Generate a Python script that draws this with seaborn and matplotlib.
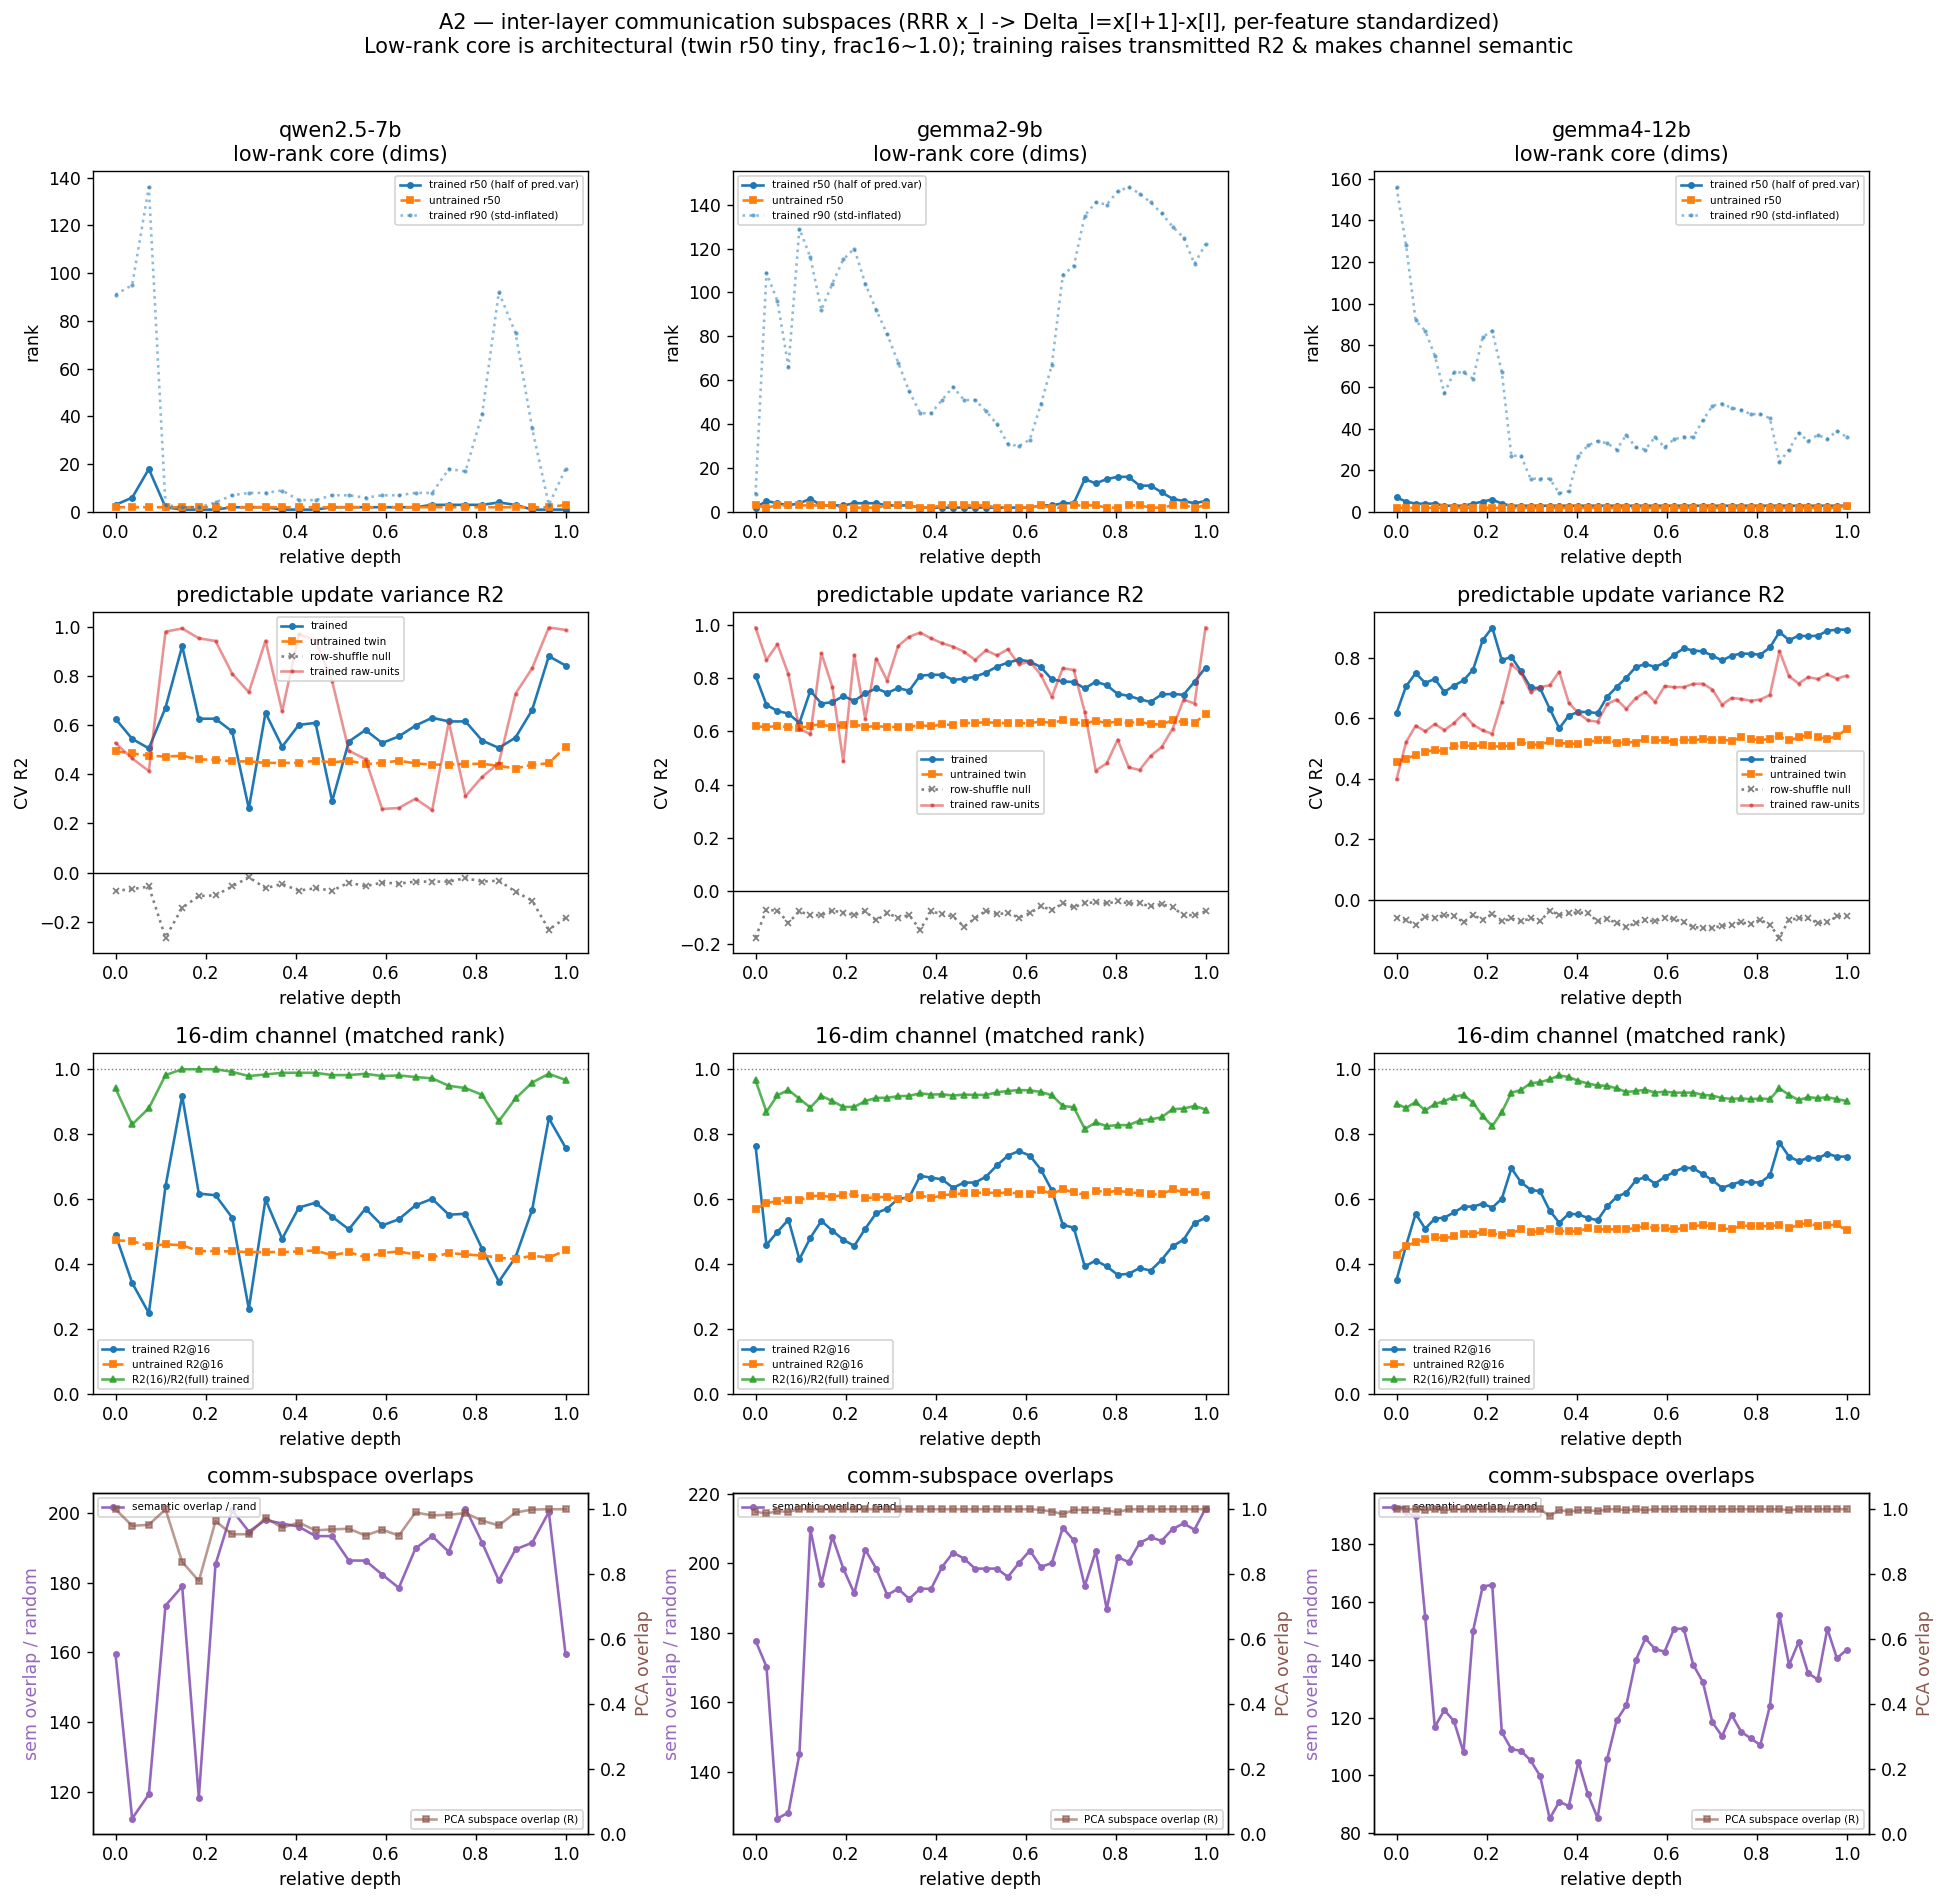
import numpy as np
import matplotlib
matplotlib.use("Agg")
import matplotlib.pyplot as plt
import seaborn as sns

# ---------------- data ----------------
models = ["qwen2.5-7b", "gemma2-9b", "gemma4-12b"]

# row 1: low-rank core (dims)
q_r50_tr = [3, 6, 18, 2, 1, 1, 1, 2, 2, 2, 1, 1, 1, 2, 2, 2, 2, 2, 2, 3, 3, 3, 3, 4, 3, 1, 1, 1]
q_r50_un = [2, 2, 2, 2, 2, 2, 2, 2, 2, 2, 2, 2, 2, 2, 2, 2, 2, 2, 2, 2, 2, 2, 2, 2, 2, 2, 2, 3]
q_r90 = [91, 95, 136, 3, 2, 2, 4, 7, 8, 8, 9, 5, 5, 7, 7, 6, 7, 7, 8, 8, 18, 17, 41, 92, 75, 35, 3, 18]

g2_r50_tr = [2, 5, 4, 3, 4, 6, 3, 3, 3, 4, 4, 4, 3, 3, 3, 2, 2, 2, 2, 2, 2, 2, 2, 2, 2, 2, 3, 3, 4, 4,
             15, 13, 15, 16, 16, 12, 12, 9, 6, 5, 4, 5]
g2_r50_un = [3, 2, 3, 3, 3, 3, 3, 3, 2, 2, 2, 2, 3, 3, 3, 2, 2, 3, 3, 3, 3, 3, 2, 2, 2, 2, 3, 2, 2, 3,
             3, 3, 2, 2, 3, 3, 2, 2, 3, 3, 2, 3]
g2_r90 = [8, 109, 96, 66, 129, 116, 92, 104, 115, 120, 104, 92, 81, 68, 55, 45, 45, 51, 57, 51, 51, 46,
          40, 31, 30, 33, 49, 67, 108, 112, 135, 141, 140, 146, 148, 145, 141, 136, 130, 125, 113, 122]

g4_r50_tr = [7, 5, 4, 4, 4, 3, 3, 3, 4, 5, 6, 4, 3, 3, 3, 3, 3, 3, 3, 3, 3, 3, 3, 3, 3, 3, 3, 3, 3, 3,
             3, 3, 3, 3, 3, 3, 3, 3, 3, 3, 3, 3, 3, 3, 3, 3, 3, 3]
g4_r50_un = [2, 2, 2, 2, 2, 2, 2, 2, 2, 2, 2, 2, 2, 2, 2, 2, 2, 2, 2, 2, 2, 2, 2, 2, 2, 2, 2, 2, 2, 2,
             2, 2, 2, 2, 2, 2, 2, 2, 2, 2, 2, 2, 2, 2, 2, 2, 2, 3]
g4_r90 = [156, 128, 92, 87, 75, 57, 67, 67, 64, 84, 87, 67, 27, 27, 16, 16, 16, 9, 10, 27, 32, 34, 33, 30,
          37, 31, 30, 36, 31, 35, 36, 36, 44, 51, 52, 50, 49, 47, 47, 45, 24, 30, 38, 34, 37, 35, 39, 36]

# row 2: predictable update variance R2
q_cv_tr = [0.627, 0.545, 0.506, 0.672, 0.923, 0.627, 0.627, 0.575, 0.261, 0.651, 0.513, 0.602, 0.610, 0.291,
           0.534, 0.581, 0.528, 0.555, 0.599, 0.631, 0.616, 0.616, 0.538, 0.508, 0.550, 0.663, 0.882, 0.844]
q_cv_un = [0.494, 0.486, 0.476, 0.473, 0.476, 0.461, 0.460, 0.453, 0.453, 0.447, 0.447, 0.447, 0.456, 0.449,
           0.456, 0.442, 0.447, 0.456, 0.445, 0.440, 0.440, 0.443, 0.443, 0.435, 0.424, 0.440, 0.445, 0.513]
q_cv_null = [-0.074, -0.068, -0.057, -0.265, -0.144, -0.096, -0.093, -0.057, -0.019, -0.064, -0.047, -0.074,
             -0.064, -0.074, -0.041, -0.056, -0.041, -0.045, -0.037, -0.037, -0.037, -0.023, -0.037, -0.033,
             -0.078, -0.115, -0.233, -0.185]
q_cv_raw = [0.528, 0.465, 0.414, 0.982, 0.995, 0.955, 0.944, 0.811, 0.735, 0.945, 0.657, 0.971, 0.948, 0.780,
            0.497, 0.462, 0.259, 0.263, 0.301, 0.254, 0.613, 0.311, 0.390, 0.446, 0.729, 0.833, 0.999, 0.989]

g2_cv_tr = [0.810, 0.700, 0.677, 0.667, 0.632, 0.753, 0.705, 0.710, 0.733, 0.715, 0.743, 0.762, 0.745, 0.763,
            0.753, 0.810, 0.813, 0.813, 0.794, 0.798, 0.806, 0.821, 0.844, 0.859, 0.870, 0.863, 0.842, 0.796,
            0.788, 0.786, 0.762, 0.787, 0.774, 0.741, 0.734, 0.721, 0.711, 0.739, 0.741, 0.738, 0.787, 0.840]
g2_cv_un = [0.619, 0.617, 0.620, 0.617, 0.612, 0.622, 0.627, 0.617, 0.624, 0.627, 0.617, 0.620, 0.617, 0.617,
            0.617, 0.624, 0.619, 0.627, 0.624, 0.632, 0.632, 0.635, 0.632, 0.632, 0.630, 0.632, 0.637, 0.632,
            0.642, 0.635, 0.630, 0.640, 0.632, 0.637, 0.632, 0.637, 0.627, 0.627, 0.642, 0.635, 0.632, 0.665]
g2_cv_null = [-0.175, -0.071, -0.074, -0.119, -0.077, -0.091, -0.091, -0.074, -0.081, -0.091, -0.077, -0.110,
              -0.084, -0.100, -0.091, -0.146, -0.077, -0.087, -0.096, -0.134, -0.103, -0.074, -0.087, -0.083,
              -0.100, -0.083, -0.058, -0.071, -0.047, -0.062, -0.045, -0.043, -0.047, -0.039, -0.047, -0.047,
              -0.058, -0.049, -0.062, -0.091, -0.091, -0.077]
g2_cv_raw = [0.991, 0.869, 0.928, 0.815, 0.610, 0.590, 0.894, 0.768, 0.487, 0.888, 0.647, 0.874, 0.791, 0.922,
             0.956, 0.972, 0.950, 0.932, 0.919, 0.900, 0.869, 0.905, 0.886, 0.909, 0.852, 0.863, 0.813, 0.730,
             0.838, 0.831, 0.673, 0.453, 0.480, 0.569, 0.465, 0.455, 0.508, 0.541, 0.610, 0.720, 0.705, 0.991]

g4_cv_tr = [0.617, 0.706, 0.749, 0.717, 0.730, 0.687, 0.708, 0.725, 0.761, 0.858, 0.900, 0.792, 0.803, 0.756,
            0.702, 0.699, 0.632, 0.567, 0.609, 0.621, 0.621, 0.617, 0.671, 0.704, 0.734, 0.770, 0.779, 0.770,
            0.783, 0.810, 0.831, 0.824, 0.821, 0.807, 0.791, 0.807, 0.814, 0.813, 0.810, 0.834, 0.885, 0.858,
            0.873, 0.871, 0.873, 0.889, 0.893, 0.893]
g4_cv_un = [0.457, 0.466, 0.479, 0.490, 0.495, 0.492, 0.507, 0.512, 0.507, 0.512, 0.507, 0.507, 0.510, 0.521,
            0.513, 0.513, 0.524, 0.519, 0.516, 0.516, 0.522, 0.527, 0.527, 0.520, 0.522, 0.520, 0.533, 0.527,
            0.527, 0.522, 0.529, 0.527, 0.532, 0.529, 0.529, 0.526, 0.537, 0.532, 0.527, 0.533, 0.540, 0.527,
            0.537, 0.546, 0.537, 0.533, 0.540, 0.565]
g4_cv_null = [-0.058, -0.065, -0.083, -0.055, -0.058, -0.050, -0.052, -0.074, -0.050, -0.065, -0.046, -0.071,
              -0.061, -0.071, -0.061, -0.071, -0.035, -0.050, -0.044, -0.041, -0.044, -0.071, -0.063, -0.076,
              -0.089, -0.076, -0.066, -0.071, -0.058, -0.063, -0.074, -0.089, -0.093, -0.093, -0.085, -0.083,
              -0.074, -0.080, -0.065, -0.083, -0.124, -0.065, -0.061, -0.061, -0.076, -0.074, -0.054, -0.054]
g4_cv_raw = [0.398, 0.521, 0.576, 0.557, 0.581, 0.561, 0.584, 0.615, 0.579, 0.560, 0.549, 0.654, 0.778, 0.750,
             0.686, 0.703, 0.709, 0.754, 0.651, 0.617, 0.593, 0.589, 0.647, 0.662, 0.631, 0.667, 0.687, 0.654,
             0.706, 0.703, 0.703, 0.714, 0.714, 0.695, 0.645, 0.667, 0.664, 0.658, 0.662, 0.677, 0.822, 0.739,
             0.715, 0.736, 0.730, 0.745, 0.731, 0.741]

# row 3: 16-dim channel
q_c16_tr = [0.491, 0.342, 0.249, 0.639, 0.918, 0.617, 0.612, 0.543, 0.262, 0.599, 0.478, 0.574, 0.589, 0.546,
            0.507, 0.571, 0.519, 0.538, 0.581, 0.601, 0.552, 0.555, 0.447, 0.346, 0.421, 0.567, 0.849, 0.759]
q_c16_un = [0.473, 0.471, 0.455, 0.461, 0.458, 0.440, 0.440, 0.439, 0.437, 0.437, 0.437, 0.439, 0.442, 0.427,
            0.437, 0.421, 0.434, 0.439, 0.429, 0.421, 0.434, 0.430, 0.426, 0.420, 0.415, 0.426, 0.420, 0.442]
q_c16_ratio = [0.941, 0.830, 0.880, 0.982, 1.000, 1.000, 1.000, 0.992, 0.979, 0.984, 0.989, 0.989, 0.989, 0.982,
               0.982, 0.986, 0.979, 0.981, 0.976, 0.972, 0.949, 0.942, 0.921, 0.840, 0.910, 0.959, 0.986, 0.967]

g2_c16_tr = [0.765, 0.459, 0.499, 0.537, 0.415, 0.481, 0.533, 0.503, 0.475, 0.456, 0.509, 0.557, 0.571, 0.601,
             0.605, 0.672, 0.666, 0.661, 0.635, 0.651, 0.651, 0.669, 0.704, 0.734, 0.748, 0.734, 0.691, 0.627,
             0.521, 0.512, 0.393, 0.411, 0.393, 0.367, 0.370, 0.388, 0.380, 0.413, 0.455, 0.475, 0.527, 0.542]
g2_c16_un = [0.569, 0.588, 0.594, 0.596, 0.596, 0.610, 0.610, 0.607, 0.613, 0.615, 0.603, 0.606, 0.607, 0.601,
             0.606, 0.612, 0.603, 0.612, 0.615, 0.618, 0.619, 0.621, 0.618, 0.621, 0.617, 0.617, 0.627, 0.617,
             0.630, 0.621, 0.613, 0.626, 0.621, 0.626, 0.621, 0.618, 0.615, 0.615, 0.630, 0.621, 0.623, 0.612]
g2_c16_ratio = [0.966, 0.869, 0.920, 0.936, 0.909, 0.882, 0.918, 0.902, 0.884, 0.884, 0.902, 0.912, 0.912, 0.917,
                0.918, 0.926, 0.922, 0.923, 0.919, 0.922, 0.921, 0.921, 0.929, 0.933, 0.936, 0.935, 0.930, 0.920,
                0.887, 0.883, 0.816, 0.836, 0.825, 0.828, 0.828, 0.842, 0.846, 0.852, 0.877, 0.879, 0.887, 0.876]

g4_c16_tr = [0.351, 0.457, 0.555, 0.509, 0.540, 0.543, 0.559, 0.577, 0.577, 0.586, 0.574, 0.601, 0.695, 0.652,
             0.629, 0.624, 0.565, 0.527, 0.555, 0.553, 0.542, 0.535, 0.578, 0.607, 0.620, 0.658, 0.668, 0.648,
             0.668, 0.684, 0.697, 0.695, 0.677, 0.658, 0.635, 0.645, 0.654, 0.652, 0.651, 0.673, 0.774, 0.731,
             0.717, 0.727, 0.726, 0.740, 0.731, 0.731]
g4_c16_un = [0.429, 0.455, 0.468, 0.476, 0.483, 0.480, 0.485, 0.493, 0.493, 0.499, 0.495, 0.489, 0.495, 0.507,
             0.498, 0.501, 0.507, 0.501, 0.501, 0.501, 0.511, 0.507, 0.507, 0.507, 0.507, 0.511, 0.517, 0.510,
             0.510, 0.507, 0.511, 0.517, 0.520, 0.516, 0.510, 0.507, 0.519, 0.517, 0.517, 0.517, 0.520, 0.510,
             0.522, 0.526, 0.517, 0.519, 0.522, 0.504]
g4_c16_ratio = [0.893, 0.881, 0.899, 0.873, 0.893, 0.902, 0.915, 0.921, 0.897, 0.856, 0.825, 0.868, 0.928, 0.936,
                0.957, 0.960, 0.969, 0.981, 0.976, 0.964, 0.956, 0.950, 0.949, 0.941, 0.930, 0.933, 0.937, 0.928,
                0.931, 0.928, 0.928, 0.928, 0.921, 0.919, 0.911, 0.909, 0.910, 0.908, 0.910, 0.908, 0.941, 0.921,
                0.905, 0.914, 0.911, 0.914, 0.908, 0.902]

# row 4: comm-subspace overlaps
q_sem = [159.6, 112.5, 119.4, 173.4, 178.9, 118.5, 185.2, 200.7, 194.6, 197.9, 196.9, 196.0, 193.3, 193.3,
         186.3, 186.3, 182.3, 178.5, 189.8, 193.3, 188.8, 201.2, 191.4, 180.6, 189.5, 191.4, 200.2, 159.6]
q_pca = [1.000, 0.949, 0.952, 1.000, 0.838, 0.779, 0.963, 0.923, 0.923, 0.974, 0.943, 0.959, 0.935, 0.938,
         0.940, 0.919, 0.937, 0.919, 0.990, 0.981, 0.983, 0.988, 0.965, 0.950, 0.990, 0.999, 1.000, 1.000]

g2_sem = [177.8, 170.3, 126.6, 128.3, 145.1, 209.8, 194.2, 207.7, 198.5, 191.4, 204.0, 198.5, 190.9, 192.7,
          189.8, 192.7, 192.7, 199.0, 203.1, 201.4, 198.5, 198.5, 198.5, 196.1, 200.1, 203.7, 199.0, 200.1,
          210.3, 206.6, 193.5, 203.5, 186.9, 201.8, 200.4, 205.9, 207.5, 206.5, 209.9, 211.5, 209.7, 215.8]
g2_pca = [0.992, 0.987, 0.994, 0.992, 1.000, 1.000, 1.000, 1.000, 1.000, 1.000, 1.000, 1.000, 1.000, 1.000,
          1.000, 1.000, 1.000, 1.000, 1.000, 1.000, 1.000, 1.000, 1.000, 1.000, 1.000, 1.000, 0.998, 0.993,
          0.985, 0.998, 0.998, 0.998, 0.996, 0.991, 1.000, 1.000, 1.000, 1.000, 1.000, 1.000, 1.000, 1.000]

g4_sem = [192.3, 191.0, 189.6, 154.7, 116.8, 122.6, 118.8, 108.0, 150.0, 165.3, 165.9, 114.9, 109.1, 108.5,
          105.2, 99.8, 85.1, 90.9, 89.4, 104.7, 93.4, 85.3, 105.6, 119.1, 124.2, 139.9, 147.4, 143.7, 142.8,
          150.7, 150.7, 138.2, 132.3, 118.3, 113.6, 120.9, 115.1, 112.8, 110.5, 124.1, 155.5, 138.2, 146.1,
          135.3, 133.2, 150.7, 140.5, 143.4]
g4_pca = [1.000, 1.000, 1.000, 0.997, 1.000, 0.997, 1.000, 1.000, 1.000, 1.000, 1.000, 1.000, 1.000, 1.000,
          1.000, 1.000, 0.979, 0.998, 0.992, 0.997, 0.997, 0.994, 1.000, 1.000, 0.997, 1.000, 0.997, 1.000,
          1.000, 1.000, 1.000, 1.000, 1.000, 1.000, 1.000, 1.000, 1.000, 1.000, 1.000, 1.000, 1.000, 0.997,
          1.000, 1.000, 1.000, 1.000, 1.000, 1.000]

data = {
    "qwen2.5-7b": dict(r50_tr=q_r50_tr, r50_un=q_r50_un, r90=q_r90, cv_tr=q_cv_tr, cv_un=q_cv_un,
                       cv_null=q_cv_null, cv_raw=q_cv_raw, c16_tr=q_c16_tr, c16_un=q_c16_un,
                       c16_ratio=q_c16_ratio, sem=q_sem, pca=q_pca),
    "gemma2-9b": dict(r50_tr=g2_r50_tr, r50_un=g2_r50_un, r90=g2_r90, cv_tr=g2_cv_tr, cv_un=g2_cv_un,
                      cv_null=g2_cv_null, cv_raw=g2_cv_raw, c16_tr=g2_c16_tr, c16_un=g2_c16_un,
                      c16_ratio=g2_c16_ratio, sem=g2_sem, pca=g2_pca),
    "gemma4-12b": dict(r50_tr=g4_r50_tr, r50_un=g4_r50_un, r90=g4_r90, cv_tr=g4_cv_tr, cv_un=g4_cv_un,
                       cv_null=g4_cv_null, cv_raw=g4_cv_raw, c16_tr=g4_c16_tr, c16_un=g4_c16_un,
                       c16_ratio=g4_c16_ratio, sem=g4_sem, pca=g4_pca),
}

row1_legend_loc = ["upper right", "upper left", "upper right"]
row2_legend_loc = ["upper center", "center", "center right"]

# ---------------- layout ----------------
W, H = 1938, 1901
DPI = 125
fig = plt.figure(figsize=(W / DPI, H / DPI), dpi=DPI)


def pos(l, t, w, h):
    return [l / W, 1 - (t + h) / H, w / W, h / H]


col_left = [93, 733, 1374]
AW, AH = 495, 341
row_top = [171, 612, 1053, 1493]

C0, C1, C2, C3, C4, C5 = "#1f77b4", "#ff7f0e", "#2ca02c", "#d62728", "#9467bd", "#8c564b"
LFS = 6


def line(ax, x, y, color, marker, ls, ms, label, alpha=1.0, lw=1.5):
    sns.lineplot(x=x, y=y, ax=ax, color=color, marker=marker, linestyle=ls, markersize=ms,
                 markeredgecolor=color, markeredgewidth=1.0, label=label, alpha=alpha, lw=lw,
                 legend=False)


for j, m in enumerate(models):
    d = data[m]
    x = np.linspace(0, 1, len(d["r50_tr"]))

    # row 1
    ax = fig.add_axes(pos(col_left[j], row_top[0], AW, AH))
    line(ax, x, d["r50_tr"], C0, "o", "-", 3, "trained r50 (half of pred.var)")
    line(ax, x, d["r50_un"], C1, "s", "--", 4, "untrained r50")
    line(ax, x, d["r90"], C0, ".", ":", 3, "trained r90 (std-inflated)", alpha=0.5)
    ax.set_ylim(bottom=0)
    ax.set_title(f"{m}\nlow-rank core (dims)")
    ax.set_ylabel("rank")
    ax.set_xlabel("relative depth")
    ax.legend(fontsize=LFS, loc=row1_legend_loc[j])

    # row 2
    ax = fig.add_axes(pos(col_left[j], row_top[1], AW, AH))
    line(ax, x, d["cv_tr"], C0, "o", "-", 3, "trained")
    line(ax, x, d["cv_un"], C1, "s", "--", 4, "untrained twin")
    line(ax, x, d["cv_null"], "gray", "x", ":", 4, "row-shuffle null")
    line(ax, x, d["cv_raw"], C3, ".", "-", 3, "trained raw-units", alpha=0.5)
    ax.axhline(0, color="k", lw=0.8)
    ax.set_title("predictable update variance R2")
    ax.set_ylabel("CV R2")
    ax.set_xlabel("relative depth")
    ax.legend(fontsize=LFS, loc=row2_legend_loc[j])

    # row 3
    ax = fig.add_axes(pos(col_left[j], row_top[2], AW, AH))
    line(ax, x, d["c16_tr"], C0, "o", "-", 3, "trained R2@16")
    line(ax, x, d["c16_un"], C1, "s", "--", 4, "untrained R2@16")
    line(ax, x, d["c16_ratio"], C2, "^", "-", 4, "R2(16)/R2(full) trained", alpha=0.8)
    ax.axhline(1.0, color="gray", ls=":", lw=0.8)
    ax.set_ylim(0, 1.05)
    ax.set_title("16-dim channel (matched rank)")
    ax.set_xlabel("relative depth")
    ax.legend(fontsize=LFS, loc="lower left")

    # row 4
    ax = fig.add_axes(pos(col_left[j], row_top[3], AW, AH))
    line(ax, x, d["sem"], C4, "o", "-", 3, "semantic overlap / rand")
    ax.set_ylabel("sem overlap / random", color=C4)
    ax.set_xlabel("relative depth")
    ax.set_title("comm-subspace overlaps")
    ax.legend(fontsize=LFS, loc="upper left")
    ax2 = ax.twinx()
    line(ax2, x, d["pca"], C5, "s", "-", 4, "PCA subspace overlap (R)", alpha=0.6)
    ax2.set_ylim(0, 1.05)
    ax2.set_ylabel("PCA overlap", color=C5)
    ax2.legend(fontsize=LFS, loc="lower right")

fig.suptitle("A2 \u2014 inter-layer communication subspaces (RRR x_l -> Delta_l=x[l+1]-x[l], per-feature standardized)\n"
             "Low-rank core is architectural (twin r50 tiny, frac16~1.0); training raises transmitted R2 & makes channel semantic",
             fontsize=12, y=1 - 13 / H, va="top")

fig.savefig("out.png", dpi=DPI)
